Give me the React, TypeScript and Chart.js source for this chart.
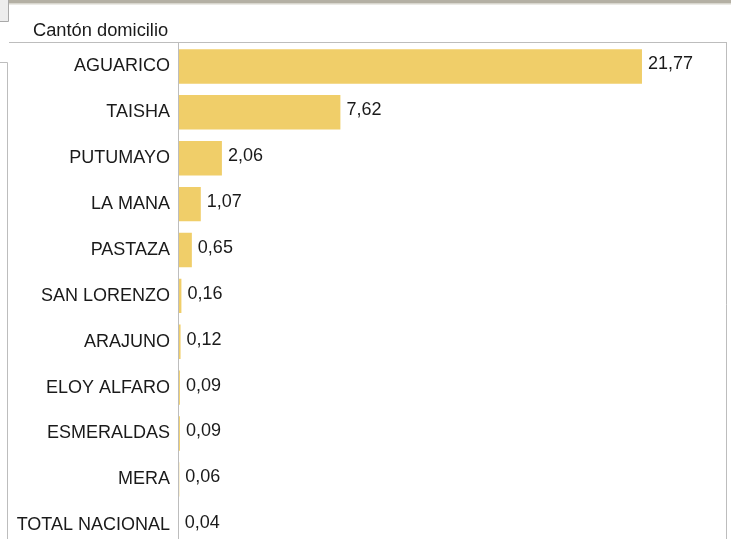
import React, { useEffect, useRef } from "react";
import { Chart, registerables } from "chart.js";

Chart.register(...registerables);

const categories = [
  "AGUARICO",
  "TAISHA",
  "PUTUMAYO",
  "LA MANA",
  "PASTAZA",
  "SAN LORENZO",
  "ARAJUNO",
  "ELOY ALFARO",
  "ESMERALDAS",
  "MERA",
  "TOTAL NACIONAL",
];
const values = [21.77, 7.62, 2.06, 1.07, 0.65, 0.16, 0.12, 0.09, 0.09, 0.06, 0.04];
const headerTitle = "Cantón domicilio";
const axisMax = 25.76;

const FONT = "'Liberation Sans', Arial, sans-serif";
const TEXT = "#1a1a1a";
const LINE = "#bdbdbd";

const framePlugin = {
  id: "frame",
  beforeDraw(chart: any) {
    const { ctx } = chart;
    ctx.save();
    ctx.fillStyle = "#ffffff";
    ctx.fillRect(0, 0, chart.width, chart.height);
    ctx.restore();
  },
  afterDatasetsDraw(chart: any) {
    const { ctx } = chart;
    const meta = chart.getDatasetMeta(0);
    ctx.save();
    ctx.font = `18px ${FONT}`;
    ctx.fillStyle = TEXT;
    ctx.textAlign = "left";
    ctx.textBaseline = "middle";
    meta.data.forEach((bar: any, i: number) => {
      const v = values[i];
      const label = v.toFixed(2).replace(".", ",");
      ctx.fillText(label, bar.x + 6, bar.y - 2);
    });
    ctx.restore();
  },
  afterDraw(chart: any) {
    const { ctx, chartArea } = chart;
    const { left, right } = chartArea;
    const lineY = 42.5;
    ctx.save();
    // top decorative bar
    ctx.fillStyle = "#b4b0a4";
    ctx.fillRect(9, 0, chart.width - 9, 3.5);
    ctx.fillStyle = "#d8d5cc";
    ctx.fillRect(9, 3.5, chart.width - 9, 1);
    // top-left box
    ctx.fillStyle = "#ededed";
    ctx.fillRect(0, 0, 8, 21);
    ctx.strokeStyle = "#a9a9a9";
    ctx.lineWidth = 1;
    ctx.beginPath();
    ctx.moveTo(8.5, 0);
    ctx.lineTo(8.5, 21.5);
    ctx.lineTo(0, 21.5);
    ctx.stroke();
    // left frame
    ctx.strokeStyle = LINE;
    ctx.beginPath();
    ctx.moveTo(0, 62.5);
    ctx.lineTo(7.5, 62.5);
    ctx.lineTo(7.5, chart.height);
    ctx.stroke();
    // plot frame
    ctx.strokeStyle = LINE;
    ctx.beginPath();
    ctx.moveTo(9, lineY);
    ctx.lineTo(right, lineY);
    ctx.moveTo(Math.round(left) + 0.5, lineY);
    ctx.lineTo(Math.round(left) + 0.5, chart.height);
    ctx.moveTo(right - 0.5, lineY);
    ctx.lineTo(right - 0.5, chart.height);
    ctx.stroke();
    // header title
    ctx.font = `18.3px ${FONT}`;
    ctx.fillStyle = TEXT;
    ctx.textAlign = "left";
    ctx.textBaseline = "alphabetic";
    ctx.fillText(headerTitle, 33, 36);
    ctx.restore();
  },
};

export default function App() {
  const ref = useRef<HTMLCanvasElement | null>(null);

  useEffect(() => {
    if (!ref.current) return;
    const chart = new Chart(ref.current, {
      type: "bar",
      data: {
        labels: categories,
        datasets: [
          {
            data: values,
            backgroundColor: "#f0ce69",
            borderWidth: 0,
            barPercentage: 0.75,
            categoryPercentage: 1,
          },
        ],
      },
      options: {
        indexAxis: "y",
        animation: false,
        responsive: false,
        maintainAspectRatio: false,
        layout: { padding: { top: 43.5, right: 4, bottom: 0, left: 0 } },
        plugins: {
          legend: { display: false },
          tooltip: { enabled: false },
          title: { display: false },
        },
        scales: {
          x: {
            display: false,
            min: 0,
            max: axisMax,
          },
          y: {
            grid: { display: false, drawTicks: false },
            border: { display: false },
            ticks: {
              color: TEXT,
              font: { family: FONT, size: 18 },
              padding: 8,
              autoSkip: false,
            },
            afterFit(scale: any) {
              scale.width = 178;
            },
          },
        },
      },
      plugins: [framePlugin],
    });
    return () => chart.destroy();
  }, []);

  return (
    <div
      style={{
        position: "fixed",
        left: 0,
        top: 0,
        width: 731,
        height: 539,
        overflow: "hidden",
        background: "#fff",
      }}
    >
      <canvas
        ref={ref}
        width={731}
        height={567}
        style={{ position: "absolute", left: 0, top: 0, width: 731, height: 567 }}
      />
    </div>
  );
}
